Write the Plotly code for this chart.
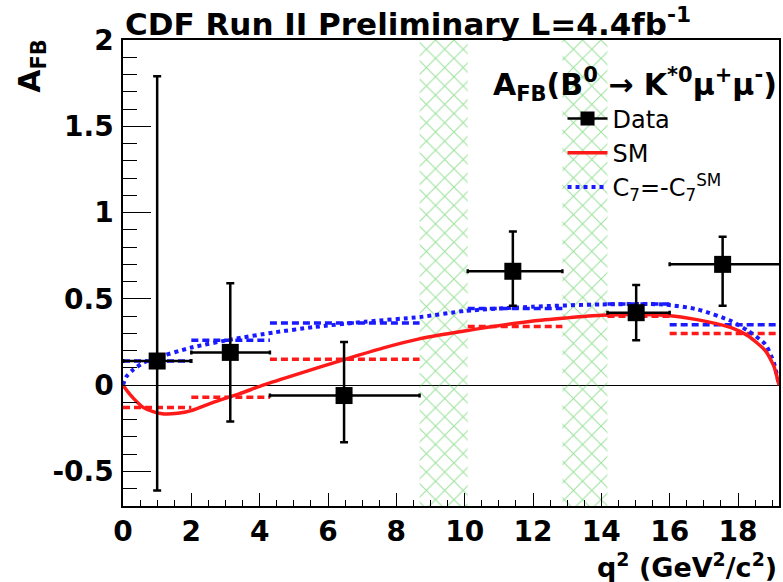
import plotly.graph_objects as go

# ---- measured forward-backward asymmetry, binned in q^2 ----
bin_lo = [0.0, 2.0, 4.3, 10.09, 14.18, 16.0]
bin_hi = [2.0, 4.3, 8.68, 12.86, 16.0, 19.3]
data_q2 = [1.0, 3.14, 6.47, 11.41, 15.02, 17.55]
data_afb = [0.14, 0.19, -0.06, 0.66, 0.42, 0.70]
err_up = [1.65, 0.40, 0.31, 0.23, 0.16, 0.16]
err_dn = [0.75, 0.40, 0.27, 0.20, 0.16, 0.24]

# ---- bin-averaged predictions ----
sm_bin = [-0.13, -0.07, 0.15, 0.34, 0.40, 0.30]
c7_bin = [0.14, 0.26, 0.36, 0.445, 0.47, 0.35]

# ---- continuous predictions ----
sm_q2 = [0, 0.15, 0.3, 0.6, 0.9, 1.2, 1.6, 2.0, 2.7, 3.4, 4.1, 5.2, 6.5, 7.6,
         8.7, 10.0, 12.0, 13.0, 14.0, 15.0, 15.9, 16.8, 17.8, 18.3, 18.8, 19.05, 19.2]
sm_afb = [0, -0.04, -0.075, -0.13, -0.155, -0.167, -0.163, -0.147, -0.095, -0.05, 0.0,
          0.07, 0.15, 0.215, 0.27, 0.314, 0.372, 0.39, 0.405, 0.41, 0.405, 0.38, 0.333,
          0.285, 0.20, 0.11, 0.0]
c7_q2 = [0, 0.1, 0.3, 0.6, 1.0, 2.0, 3.2, 4.4, 5.6, 7.1, 8.7, 10.0, 12.0, 14.0,
         15.8, 16.8, 17.8, 18.3, 18.8, 19.05, 19.2]
c7_afb = [0, 0.05, 0.09, 0.13, 0.16, 0.218, 0.266, 0.305, 0.337, 0.368, 0.395, 0.43,
          0.455, 0.468, 0.468, 0.44, 0.372, 0.314, 0.237, 0.13, 0.0]

# ---- charmonium veto regions ----
veto_lo = [8.68, 12.86]
veto_hi = [10.09, 14.18]

# ---- axes ----
x_range = [0, 19.2]
y_range = [-0.7, 2.0]
y_ticks = [-0.5, 0, 0.5, 1, 1.5, 2]
x_ticks = [0, 2, 4, 6, 8, 10, 12, 14, 16, 18]

FONT = "DejaVu Sans"


def step_segments(lo, hi, vals):
    xs, ys = [], []
    for a, b, v in zip(lo, hi, vals):
        xs += [a, b, None]
        ys += [v, v, None]
    return xs, ys


def tick_text(v):
    return ("%g" % v).replace("\u2212", "-")


fig = go.Figure()

# hatched veto bands
fig.add_trace(go.Bar(
    x=[(a + b) / 2 for a, b in zip(veto_lo, veto_hi)],
    width=[b - a for a, b in zip(veto_lo, veto_hi)],
    y=[y_range[1] - y_range[0]] * len(veto_lo),
    base=[y_range[0]] * len(veto_lo),
    marker=dict(color="rgba(0,0,0,0)", line=dict(width=0),
                pattern=dict(shape="x", fgcolor="#3cc43c", bgcolor="rgba(0,0,0,0)",
                             size=13, solidity=0.16)),
    showlegend=False, hoverinfo="skip",
))

# binned predictions (dashed)
sx, sy = step_segments(bin_lo, bin_hi, sm_bin)
fig.add_trace(go.Scatter(x=sx, y=sy, mode="lines", showlegend=False,
                         line=dict(color="#ff1a1a", width=3.5, dash="7px,4px")))
cx, cy = step_segments(bin_lo, bin_hi, c7_bin)
fig.add_trace(go.Scatter(x=cx, y=cy, mode="lines", showlegend=False,
                         line=dict(color="#1a1aff", width=3.5, dash="7px,4px")))

# continuous predictions
fig.add_trace(go.Scatter(x=c7_q2, y=c7_afb, mode="lines", name="C<sub>7</sub>=-C<sub>7</sub><sup>SM</sup>",
                         line=dict(color="#1a1aff", width=4, dash="dot", shape="spline", smoothing=0.6),
                         legendrank=3))
fig.add_trace(go.Scatter(x=sm_q2, y=sm_afb, mode="lines", name="SM",
                         line=dict(color="#ff1a1a", width=3.5, shape="spline", smoothing=0.6),
                         legendrank=2))

# data points
fig.add_trace(go.Scatter(
    x=data_q2, y=data_afb, mode="markers", showlegend=False,
    marker=dict(symbol="square", size=17, color="black"),
    error_y=dict(type="data", symmetric=False, array=err_up, arrayminus=err_dn,
                 color="black", thickness=2.5, width=4),
    error_x=dict(type="data", symmetric=False,
                 array=[h - x for h, x in zip(bin_hi, data_q2)],
                 arrayminus=[x - l for l, x in zip(bin_lo, data_q2)],
                 color="black", thickness=2.5, width=2),
))
fig.add_trace(go.Scatter(x=[None], y=[None], mode="lines+markers", name="Data",
                         line=dict(color="black", width=2.5),
                         marker=dict(symbol="square", size=14, color="black"),
                         legendrank=1))

axis_common = dict(showline=True, linecolor="black", linewidth=1.5, mirror=True,
                   showgrid=False, ticks="inside", tickcolor="black", tickwidth=1.2,
                   tickfont=dict(family=FONT, size=28, color="black", weight="bold"))

fig.update_xaxes(range=x_range, tickmode="array", tickvals=x_ticks,
                 ticktext=[tick_text(v) for v in x_ticks], ticklen=13,
                 minor=dict(dtick=0.5, tick0=0, ticks="inside", ticklen=6,
                            tickcolor="black", tickwidth=1.2),
                 zeroline=False, **axis_common)
fig.update_yaxes(range=y_range, tickmode="array", tickvals=y_ticks,
                 ticktext=[tick_text(v) for v in y_ticks], ticklen=28,
                 minor=dict(dtick=0.1, tick0=0, ticks="inside", ticklen=14,
                            tickcolor="black", tickwidth=1.2),
                 zeroline=True, zerolinecolor="black", zerolinewidth=1,
                 ticklabelstandoff=2, **axis_common)

annotations = [
    dict(text="CDF Run II Preliminary L=4.4fb<sup>-1</sup>", xref="paper", yref="paper",
         x=0, y=1.0, xanchor="left", yanchor="bottom", showarrow=False, yshift=-4,
         font=dict(family=FONT, size=31, color="black", weight="bold")),
    dict(text="A<sub>FB</sub>", xref="paper", yref="paper", x=-0.14, y=0.945,
         xanchor="center", yanchor="middle", textangle=-90, showarrow=False,
         font=dict(family=FONT, size=30, color="black", weight="bold")),
    dict(text="q<sup>2</sup> (GeV<sup>2</sup>/c<sup>2</sup>)", xref="paper", yref="paper",
         x=1.0, y=-0.086, xanchor="right", yanchor="top", showarrow=False,
         font=dict(family=FONT, size=27, color="black", weight="bold")),
    dict(text="A<sub>FB</sub>(B<sup>0</sup> → K<sup>*0</sup>μ<sup>+</sup>μ<sup>-</sup>)",
         xref="paper", yref="paper", x=1.0, y=0.905, xanchor="right", yanchor="middle",
         showarrow=False, font=dict(family=FONT, size=30, color="black", weight="bold")),
]

fig.update_layout(
    width=783, height=582,
    margin=dict(l=123, r=2, t=40, b=76),
    paper_bgcolor="white", plot_bgcolor="white",
    barmode="overlay",
    annotations=annotations,
    legend=dict(x=0.67, y=0.879, xanchor="left", yanchor="top",
                bgcolor="rgba(0,0,0,0)", borderwidth=0, tracegroupgap=0,
                font=dict(family=FONT, size=24, color="black"), itemwidth=40),
)

fig.write_html("out.html")
